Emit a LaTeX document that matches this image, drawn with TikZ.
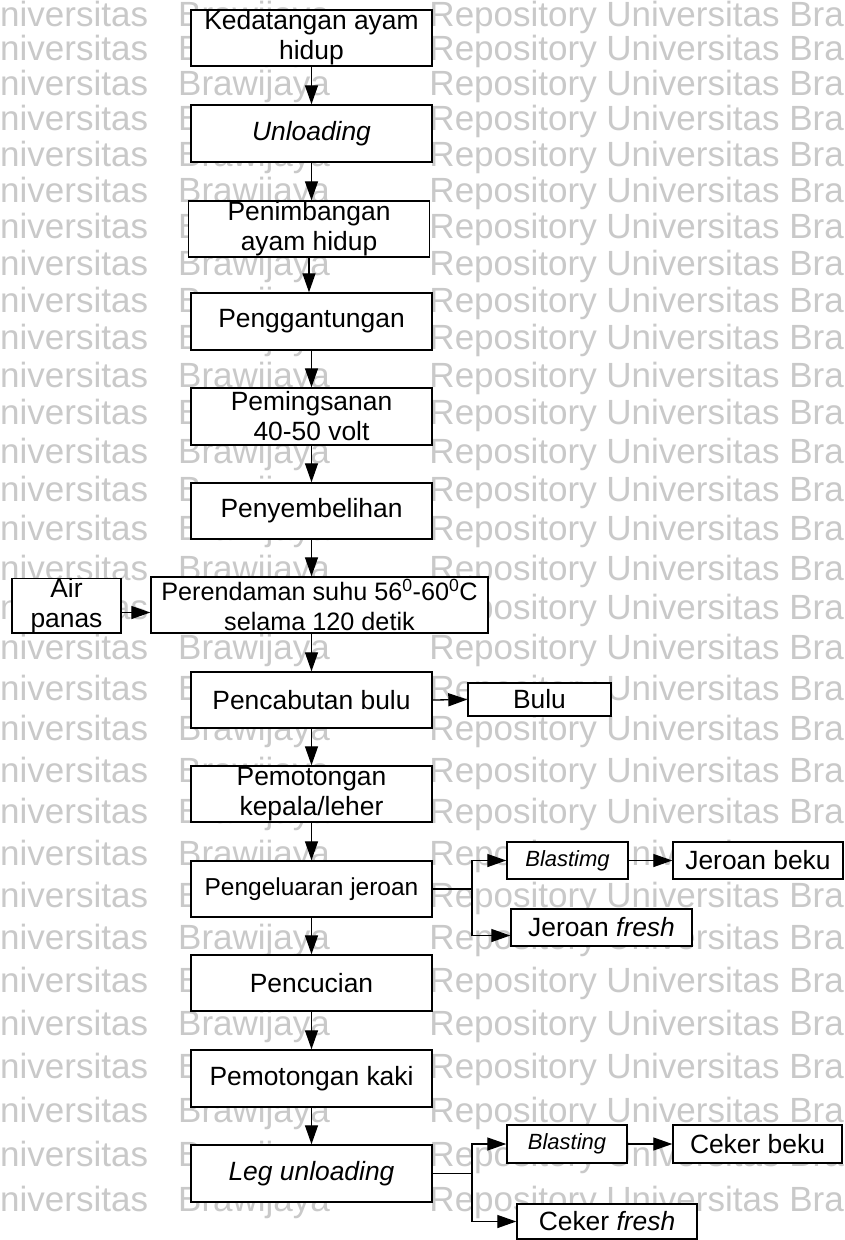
\documentclass[tikz,border=0pt]{standalone}
\usepackage{fontspec}
\setmainfont{Liberation Sans}
\usetikzlibrary{arrows.meta}
\begin{document}
\begin{tikzpicture}[x=1pt,y=-1pt,
  box/.style={draw=black, fill=white, line width=1.4pt, inner sep=0pt, align=center,
              font=\fontsize{26.4}{30}\selectfont},
  main/.style={box, minimum width=241pt, minimum height=56pt},
  side/.style={box, minimum height=37pt},
  smallit/.style={side, font=\fontsize{22}{26}\selectfont\itshape},
  arr/.style={line width=1.3pt, -{Triangle[length=19pt,width=13pt]}},
  link/.style={line width=1.3pt},
  wm/.style={inner sep=0pt, text=black!21, font=\fontsize{35}{38}\selectfont}
]
\useasboundingbox (0,0) rectangle (844,1240);
\fill[white] (0,0) rectangle (844,1240);

% background lettering
\begin{scope}
  \clip (0,0) rectangle (844,1240);
  \foreach \i in {0,...,30}{
    \pgfmathsetmacro\yb{26+34.4*\i+0.17*\i*\i}
    \node[wm, anchor=base west] (wa\i) at (0,\yb) {niversitas};
    \node[wm, anchor=base west] (wb\i) at (178,\yb) {Brawijaya};
    \node[wm, anchor=base east] (wc\i) at (844,\yb) {Repository Universitas Bra};
  }
\end{scope}

% main process column
\node[main] (b1) at (311.5,38) {Kedatangan ayam\\hidup};
\node[main, minimum height=57pt] (b2) at (311.5,133.5) {\textit{Unloading}};
\node[main] (b3) at (309,229) {Penimbangan\\ayam hidup};
\node[main, minimum height=57pt] (b4) at (311.5,321.5) {Penggantungan};
\node[main, minimum height=57pt] (b5) at (311.5,416.5) {Pemingsanan\\40-50 volt};
\node[main] (b6) at (311.5,511) {Penyembelihan};
\node[main, minimum width=337pt, font=\fontsize{25.2}{30}\selectfont] (b7) at (319.5,605)
  {Perendaman suhu 56\textsuperscript{0}-60\textsuperscript{0}C\\selama 120 detik};
\node[main] (b8) at (311.5,700) {Pencabutan bulu};
\node[main] (b9) at (311.5,794) {Pemotongan\\kepala/leher};
\node[main, font=\fontsize{24.5}{28}\selectfont] (b10) at (311.5,889) {Pengeluaran jeroan};
\node[main] (b11) at (311.5,983) {Pencucian};
\node[main, minimum height=57pt] (b12) at (311.5,1078.5) {Pemotongan kaki};
\node[main, minimum height=57pt] (b13) at (311.5,1173.5) {\textit{Leg unloading}};

% side inputs and outputs
\node[box, minimum width=109pt, minimum height=51pt] (air) at (66.5,605.5) {Air\\panas};
\node[box, minimum width=143pt, minimum height=33pt] (bulu) at (539.5,699.5) {Bulu};
\node[smallit, minimum width=121pt] (blastj) at (567.5,860.5) {Blastimg};
\node[side, minimum width=170pt] (jbeku) at (758,860.5) {Jeroan beku};
\node[side, minimum width=181pt] (jfresh) at (601.5,927.5) {Jeroan \textit{fresh}};
\node[smallit, minimum width=120pt, minimum height=38pt] (blastc) at (567,1144) {Blasting};
\node[side, minimum width=169pt, minimum height=38pt] (cbeku) at (757.5,1144) {Ceker beku};
\node[side, minimum width=180pt, minimum height=35pt] (cfresh) at (607,1221.5) {Ceker \textit{fresh}};

% flow down the column
\draw[arr] (b1.south) -- (b1.south |- b2.north);
\draw[arr] (b2.south) -- (b2.south |- b3.north);
\draw[arr] (b3.south) -- (b3.south |- b4.north);
\draw[arr] (b4.south) -- (b4.south |- b5.north);
\draw[arr] (b5.south) -- (b5.south |- b6.north);
\draw[arr] (b6.south) -- (b6.south |- b7.north);
\draw[arr] (b8.north |- b7.south) -- (b8.north);
\draw[arr] (b8.south) -- (b9.north);
\draw[arr] (b9.south) -- (b10.north);
\draw[arr] (b10.south) -- (b11.north);
\draw[arr] (b11.south) -- (b12.north);
\draw[arr] (b12.south) -- (b13.north);

% side connectors
\draw[arr] ([yshift=-7pt]air.east) -- ([yshift=-7pt]air.east -| b7.west);
\draw[arr] (b8.east) -- (bulu.west);

\coordinate (j1) at (472,889);
\draw[link] (b10.east) -- (j1);
\draw[arr] (j1) |- (blastj.west);
\draw[arr] (j1) |- ([yshift=-8pt]jfresh.west);
\draw[arr] (blastj.east) -- (jbeku.west);

\coordinate (j2) at (472,1173.5);
\draw[link] (b13.east) -- (j2);
\draw[arr] (j2) |- (blastc.west);
\draw[arr] (j2) |- (cfresh.west);
\draw[arr] (blastc.east) -- (cbeku.west);
\end{tikzpicture}
\end{document}
